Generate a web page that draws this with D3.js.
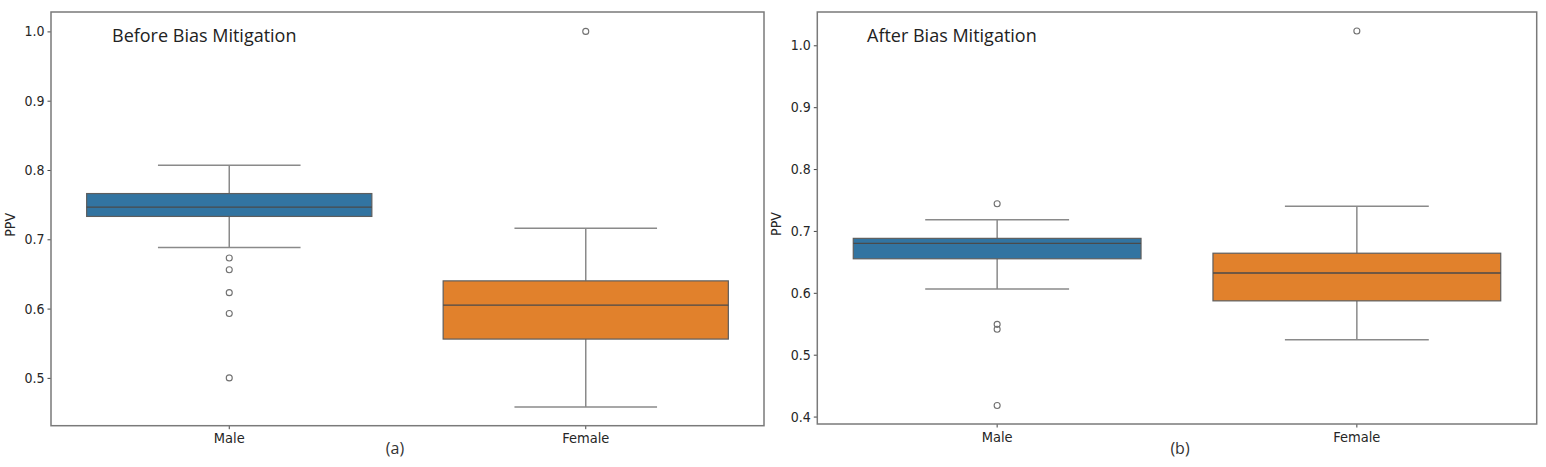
<!DOCTYPE html>
<html>
<head>
<meta charset="utf-8">
<script src="https://cdn.jsdelivr.net/npm/d3@7"></script>
<style>
  body { margin: 0; background: #fff; }
  .tick text { font-family: "DejaVu Sans Condensed", "DejaVu Sans", sans-serif; fill: #262626; }
</style>
</head>
<body>
<div id="chart-area"></div>
<script>
// box stats (q1, median, q3, whisker low/high, outliers)
const categories = ["Male", "Female"]
const colors = ["#3274a1", "#e1812c"]

const beforeQ1 = [0.733, 0.556]
const beforeMed = [0.7465, 0.605]
const beforeQ3 = [0.766, 0.640]
const beforeLo = [0.688, 0.458]
const beforeHi = [0.807, 0.716]
const beforeOut = [[0.673, 0.656, 0.623, 0.593, 0.500], [1.0]]
const beforeTicks = [0.5, 0.6, 0.7, 0.8, 0.9, 1.0]

const afterQ1 = [0.655, 0.587]
const afterMed = [0.680, 0.632]
const afterQ3 = [0.688, 0.664]
const afterLo = [0.606, 0.524]
const afterHi = [0.718, 0.740]
const afterOut = [[0.744, 0.549, 0.541, 0.418], [1.023]]
const afterTicks = [0.4, 0.5, 0.6, 0.7, 0.8, 0.9, 1.0]

const svg = d3.select("#chart-area").append("svg")
  .attr("width", 1546)
  .attr("height", 467)

function panel(opt) {
  const x = d3.scaleBand().domain(categories).range([opt.left, opt.right]).padding(0)
  const y = d3.scaleLinear().domain(opt.domain).range([opt.bottom, opt.top])
  const g = svg.append("g")
  const bw = x.bandwidth() * 0.8

  // y axis
  const yAxis = g.append("g")
    .attr("transform", `translate(${opt.left}, 0)`)
    .call(d3.axisLeft(y).tickValues(opt.ticks).tickFormat(d3.format(".1f")).tickSize(3.5).tickPadding(3))
  yAxis.select(".domain").remove()
  yAxis.selectAll(".tick line").attr("stroke", "#444")
  yAxis.selectAll(".tick text").attr("font-size", "14px")

  // x axis
  const xAxis = g.append("g")
    .attr("transform", `translate(0, ${opt.bottom})`)
    .call(d3.axisBottom(x).tickSize(3.5).tickPadding(4))
  xAxis.select(".domain").remove()
  xAxis.selectAll(".tick line").attr("stroke", "#444")
  xAxis.selectAll(".tick text").attr("font-size", "14.5px")

  //boxes
  categories.forEach((c, i) => {
    const cx = x(c) + x.bandwidth() / 2
    const b = g.append("g")
    b.append("line")
      .attr("x1", cx).attr("x2", cx)
      .attr("y1", y(opt.hi[i])).attr("y2", y(opt.q3[i]))
      .attr("stroke", "#8a8a8a").attr("stroke-width", 1.5)
    b.append("line")
      .attr("x1", cx).attr("x2", cx)
      .attr("y1", y(opt.q1[i])).attr("y2", y(opt.lo[i]))
      .attr("stroke", "#8a8a8a").attr("stroke-width", 1.5)
    ;[opt.hi[i], opt.lo[i]].forEach(v => {
      b.append("line")
        .attr("x1", cx - bw / 4).attr("x2", cx + bw / 4)
        .attr("y1", y(v)).attr("y2", y(v))
        .attr("stroke", "#8a8a8a").attr("stroke-width", 1.5)
    })
    b.append("rect")
      .attr("x", cx - bw / 2)
      .attr("y", y(opt.q3[i]))
      .attr("width", bw)
      .attr("height", y(opt.q1[i]) - y(opt.q3[i]))
      .attr("fill", colors[i])
      .attr("stroke", "#5e5e5e").attr("stroke-width", 1.2)
    b.append("line")
      .attr("x1", cx - bw / 2).attr("x2", cx + bw / 2)
      .attr("y1", y(opt.med[i])).attr("y2", y(opt.med[i]))
      .attr("stroke", "#4a4a4a").attr("stroke-width", 1.3)
    b.selectAll("circle.out").data(opt.out[i]).enter().append("circle")
      .attr("class", "out")
      .attr("cx", cx)
      .attr("cy", d => y(d))
      .attr("r", 3)
      .attr("fill", "none")
      .attr("stroke", "#707070").attr("stroke-width", 1.1)
  })

  // frame
  g.append("rect")
    .attr("x", opt.left).attr("y", opt.top)
    .attr("width", opt.right - opt.left).attr("height", opt.bottom - opt.top)
    .attr("fill", "none").attr("stroke", "#7a7a7a").attr("stroke-width", 1.5)

  //Y label
  g.append("text")
    .attr("transform", `translate(${opt.left - 36}, ${(opt.top + opt.bottom) / 2 + 6}) rotate(-90)`)
    .attr("text-anchor", "middle")
    .attr("font-family", "DejaVu Sans Condensed, DejaVu Sans, sans-serif")
    .attr("font-size", "14px")
    .attr("fill", "#262626")
    .text("PPV")

  //title inside
  g.append("text")
    .attr("x", opt.titleX).attr("y", 42)
    .attr("font-family", "Open Sans, sans-serif")
    .attr("font-size", "18px")
    .attr("fill", "#222")
    .text(opt.title)

  //panel tag
  g.append("text")
    .attr("x", opt.tagX).attr("y", 454)
    .attr("text-anchor", "middle")
    .attr("font-family", "Open Sans, sans-serif")
    .attr("font-size", "16px")
    .attr("fill", "#333")
    .text(opt.tag)
}

panel({
  left: 51, right: 764, top: 12, bottom: 425.7,
  domain: [0.431, 1.028], ticks: beforeTicks,
  q1: beforeQ1, med: beforeMed, q3: beforeQ3, lo: beforeLo, hi: beforeHi, out: beforeOut,
  title: "Before Bias Mitigation", titleX: 112, tag: "(a)", tagX: 395
})

panel({
  left: 817.3, right: 1536.7, top: 12, bottom: 424,
  domain: [0.388, 1.0538], ticks: afterTicks,
  q1: afterQ1, med: afterMed, q3: afterQ3, lo: afterLo, hi: afterHi, out: afterOut,
  title: "After Bias Mitigation", titleX: 867, tag: "(b)", tagX: 1180
})
</script>
</body>
</html>
